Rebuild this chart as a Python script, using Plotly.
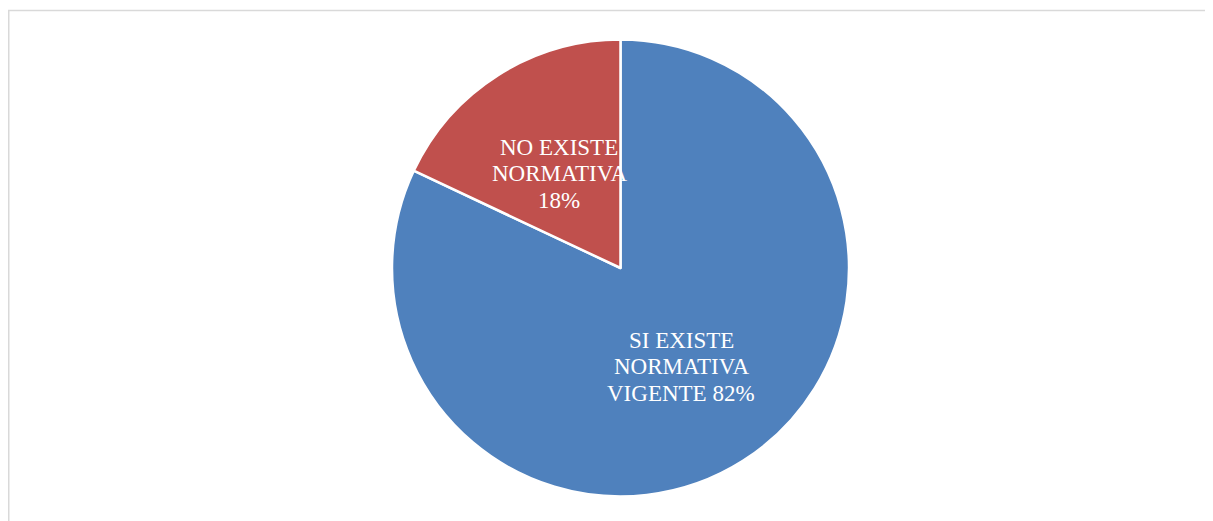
import plotly.graph_objects as go

labels = ["SI EXISTE NORMATIVA VIGENTE", "NO EXISTE NORMATIVA"]
values = [82, 18]
colors = ["#4F81BD", "#C0504D"]
label_lines = [["SI EXISTE", "NORMATIVA", "VIGENTE 82%"], ["NO EXISTE", "NORMATIVA", "18%"]]

# page body has an 8px margin; figure sized so it ends at window edge
OFF = 8
W, H = 1213 - OFF, 521 - OFF
cx, cy, r = 620.5 - OFF, 268 - OFF, 228.5

fig = go.Figure(go.Pie(
    labels=labels, values=values, sort=False, direction="clockwise", rotation=0,
    marker=dict(colors=colors, line=dict(color="white", width=2.5)),
    textinfo="none", hoverinfo="label+percent", showlegend=False,
    domain=dict(x=[(cx - r) / W, (cx + r) / W], y=[(H - cy - r) / H, (H - cy + r) / H]),
))

font = dict(family="Liberation Serif, DejaVu Serif, serif", size=23, color="white")
label_pos = [(681, 339), (559, 146)]   # centre of first line (reference pixels)
line_step = 26.7
for lines, (px, py) in zip(label_lines, label_pos):
    for i, txt in enumerate(lines):
        yy = py + i * line_step - OFF + 1
        fig.add_annotation(text=txt, x=(px - OFF) / W, y=(H - yy) / H, xref="paper", yref="paper",
                           showarrow=False, font=font, align="center",
                           xanchor="center", yanchor="middle")

fig.add_shape(type="rect", xref="paper", yref="paper",
              x0=0.75 / W, x1=1.05, y0=-0.05, y1=(H - (10.5 - OFF)) / H,
              line=dict(color="#d9d9d9", width=1.5), layer="below")

fig.update_layout(width=W, height=H, margin=dict(l=0, r=0, t=0, b=0),
                  paper_bgcolor="white", plot_bgcolor="white")
fig.write_html("out.html")
